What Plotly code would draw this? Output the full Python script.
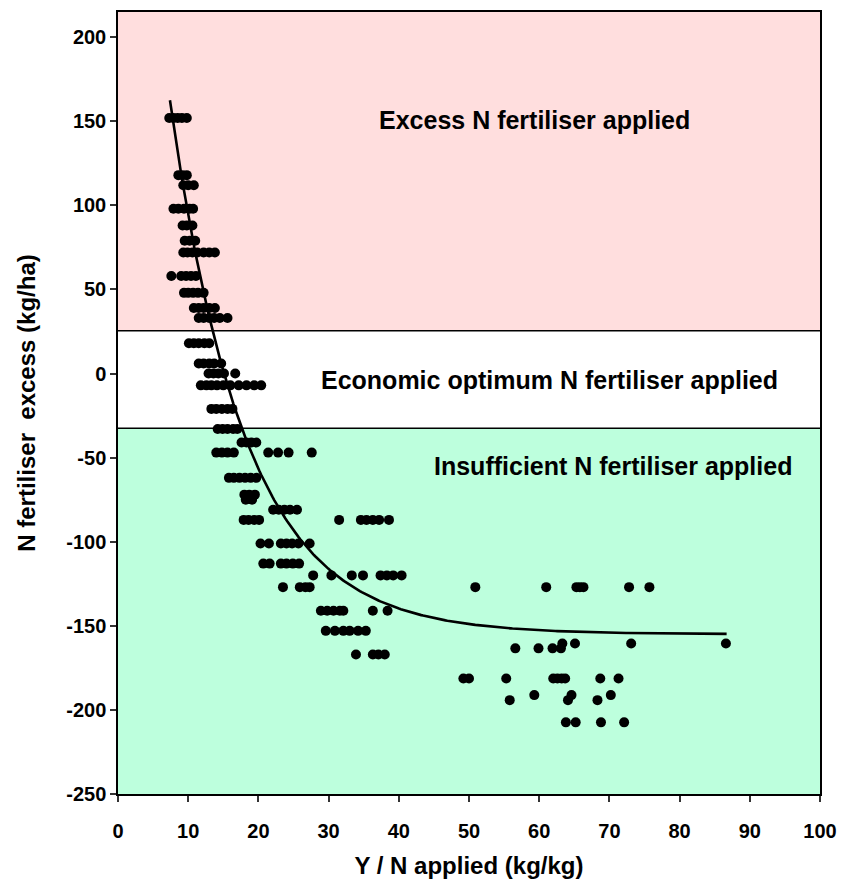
import numpy as np
import plotly.graph_objects as go

# Observed points: N fertiliser excess (kg/ha) against Y / N applied (kg/kg)
rows_y = [152, 118, 112, 98, 88, 79, 72, 58, 48, 39, 33, 18, 6, 0, -7, -21, -33, -41,
          -47, -62, -72, -75, -81, -87, -101, -113, -120, -127, -141, -153, -167,
          -160.5, -163.4, -181.3, -191.2, -194.2, -207.4]
rows_x = [
    [7.3, 7.9, 8.5, 9.1, 9.8],
    [8.6, 9.2, 9.8],
    [9.3, 10.0, 10.8],
    [7.9, 8.6, 9.4, 10.2, 10.7],
    [9.2, 9.8, 10.6],
    [9.5, 10.2, 11.0],
    [9.3, 9.9, 10.6, 11.3, 12.2, 13.0, 13.8],
    [7.6, 9.0, 9.7, 10.4, 11.1],
    [9.4, 10.0, 10.7, 11.4, 12.2],
    [10.8, 11.5, 12.2, 13.0, 13.8],
    [11.5, 12.2, 13.0, 13.7, 14.5, 15.6],
    [10.1, 10.8, 11.5, 12.3, 13.0],
    [11.5, 12.2, 13.0, 13.7, 14.7],
    [12.9, 13.6, 14.3, 15.1, 16.7],
    [11.8, 12.6, 13.3, 14.1, 15.0, 16.0, 17.2, 18.3, 19.4, 20.4],
    [13.3, 14.0, 14.8, 15.6, 16.3],
    [14.2, 14.9, 15.6, 16.4, 17.0],
    [17.6, 18.3, 19.0, 19.7],
    [14.0, 14.8, 15.6, 16.5, 21.4, 22.8, 24.3, 27.6],
    [15.8, 16.5, 17.3, 18.1, 18.9, 19.7],
    [18.0, 18.7, 19.5],
    [18.2, 19.1],
    [22.1, 22.9, 23.7, 24.5, 25.5],
    [17.9, 18.6, 19.4, 20.1, 31.5, 34.6, 35.4, 36.3, 37.2, 38.6],
    [20.3, 21.5, 23.2, 24.0, 24.8, 25.7, 27.3],
    [20.7, 21.6, 23.2, 24.0, 24.9, 25.8],
    [27.8, 30.4, 33.3, 34.9, 37.4, 38.3, 39.2, 40.4],
    [23.5, 25.9, 26.7, 27.3, 50.9, 61.0, 65.3, 65.8, 66.3, 72.8, 75.7],
    [28.9, 29.8, 30.7, 31.6, 32.1, 36.3, 38.4],
    [29.6, 30.9, 32.1, 33.0, 34.2, 35.3],
    [33.9, 36.3, 37.1, 38.0],
    [63.3, 65.1, 73.1, 86.6],
    [56.6, 59.9, 61.9, 63.1],
    [49.2, 50.0, 55.3, 62.0, 62.6, 63.2, 63.7, 68.7, 71.3],
    [59.3, 64.6, 70.2],
    [55.8, 64.1, 68.3],
    [63.8, 65.2, 68.8, 72.1],
]
obs_x = [x for xs in rows_x for x in xs]
obs_y = [y for y, xs in zip(rows_y, rows_x) for _ in xs]

# Fitted exponential response: y = A + B * exp(-K * x)
FIT_A, FIT_B, FIT_K = -155.0, 632.0, 0.093
fit_x = np.linspace(7.4, 86.7, 300)
fit_y = FIT_A + FIT_B * np.exp(-FIT_K * fit_x)

# Band limits for the three fertiliser zones
EXCESS_LIMIT = 25.5
SHORTFALL_LIMIT = -32.5
Y_MIN, Y_MAX = -250, 215
X_MIN, X_MAX = 0, 100

x_ticks = list(range(0, 101, 10))
y_ticks = list(range(-250, 201, 50))
y_tick_text = [str(v) for v in y_ticks]  # plain hyphen for negatives

FONT = "Liberation Sans"

fig = go.Figure()
fig.add_trace(go.Scatter(
    x=obs_x, y=obs_y, mode="markers",
    marker=dict(color="black", size=10, line=dict(width=0)),
    showlegend=False, hoverinfo="x+y"))
fig.add_trace(go.Scatter(
    x=fit_x, y=fit_y, mode="lines",
    line=dict(color="black", width=2.6),
    showlegend=False, hoverinfo="skip"))

fig.add_shape(type="rect", xref="x", yref="y", x0=X_MIN, x1=X_MAX,
              y0=EXCESS_LIMIT, y1=Y_MAX, fillcolor="#FFDEDE",
              line=dict(width=0), layer="below")
fig.add_shape(type="rect", xref="x", yref="y", x0=X_MIN, x1=X_MAX,
              y0=Y_MIN, y1=SHORTFALL_LIMIT, fillcolor="#BDFFDD",
              line=dict(width=0), layer="below")
for lim in (EXCESS_LIMIT, SHORTFALL_LIMIT):
    fig.add_shape(type="line", xref="x", yref="y", x0=X_MIN, x1=X_MAX,
                  y0=lim, y1=lim, line=dict(color="black", width=1.5),
                  layer="below")

zone_labels = [
    ("Excess N fertiliser applied", 59.4, 151),
    ("Economic optimum N fertiliser applied", 61.4, -4),
    ("Insufficient N fertiliser applied", 70.5, -55),
]
for text, tx, ty in zone_labels:
    fig.add_annotation(x=tx, y=ty, text=text, showarrow=False,
                       font=dict(family=FONT, size=25, color="black", weight="bold"))

axis_common = dict(
    showgrid=False, zeroline=False, showline=True, linecolor="black",
    linewidth=1.5, mirror=True, ticks="outside", ticklen=6, tickwidth=1.5,
    tickcolor="#333333", automargin=False,
    tickfont=dict(family=FONT, size=20, color="black", weight="bold"),
)
fig.update_xaxes(range=[X_MIN, X_MAX], tickvals=x_ticks, ticklabelstandoff=12,
                 title=dict(text="Y / N applied (kg/kg)", standoff=16,
                            font=dict(family=FONT, size=24, color="black", weight="bold")),
                 **axis_common)
fig.update_yaxes(range=[Y_MIN, Y_MAX], tickvals=y_ticks, ticktext=y_tick_text,
                 title=dict(text="N fertiliser&nbsp; excess (kg/ha)", standoff=24,
                            font=dict(family=FONT, size=24, color="black", weight="bold")),
                 **axis_common)

fig.update_layout(
    width=841, height=881,
    margin=dict(l=118, r=21, t=12, b=87),
    plot_bgcolor="white", paper_bgcolor="white",
)

fig.write_html("out.html")
